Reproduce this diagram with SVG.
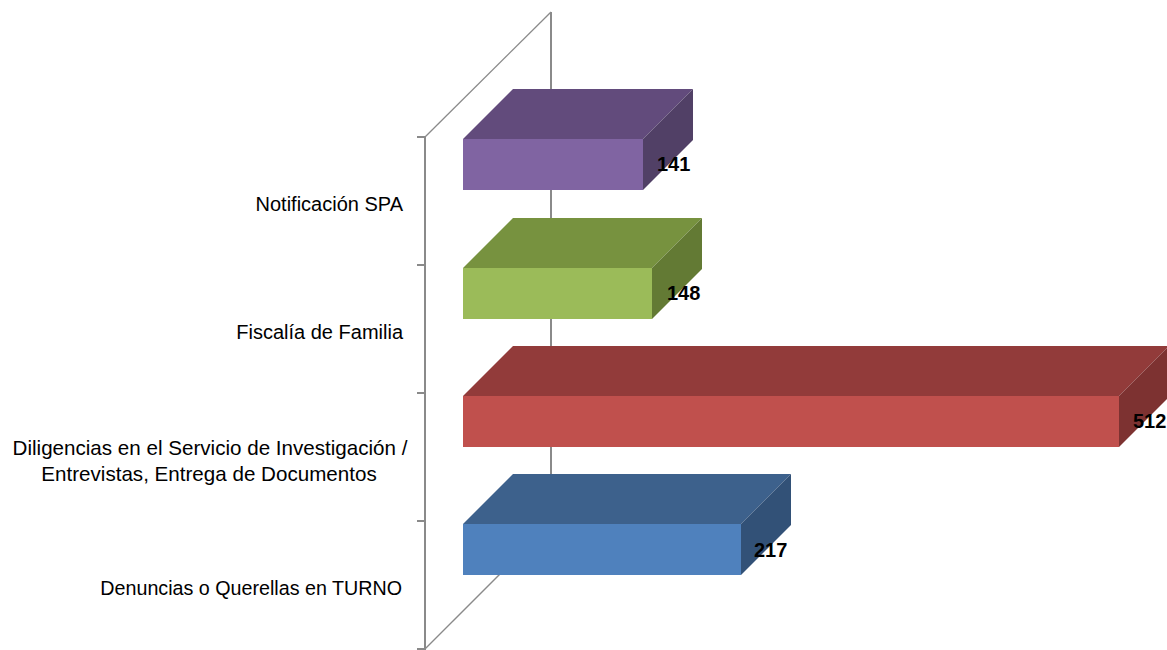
<svg xmlns="http://www.w3.org/2000/svg" width="1167" height="650" viewBox="0 0 1167 650">
<style>
.wall{stroke:#8a8a8a;fill:none}
.ax{stroke:#8a8a8a;stroke-width:2;fill:none}
.cat{font-family:"Liberation Sans",Arial,sans-serif;font-size:20px;fill:#000}
.val{font-family:"Liberation Sans",Arial,sans-serif;font-size:20px;font-weight:bold;fill:#000}
</style>
<rect width="1167" height="650" fill="#ffffff"/>
<g id="connectors">
<line class="wall" x1="425" y1="137" x2="551" y2="12" stroke-width="1.3"/>
<line class="wall" x1="425" y1="649" x2="551" y2="523" stroke-width="1.3"/>
<line class="ax" x1="551" y1="12" x2="551" y2="523"/>
<line class="ax" x1="425" y1="137" x2="425" y2="650"/>
<line class="ax" x1="417" y1="137" x2="425" y2="137"/>
<line class="ax" x1="417" y1="265" x2="425" y2="265"/>
<line class="ax" x1="417" y1="393" x2="425" y2="393"/>
<line class="ax" x1="417" y1="521" x2="425" y2="521"/>
<line class="ax" x1="417" y1="649" x2="425" y2="649"/>
</g>
<g id="bar-notificacion">
<polygon points="463,139 513,89 693,89 643,139" fill="#624B7C"/>
<polygon points="643,139 693,89 693,140 643,190" fill="#514066"/>
<rect x="463" y="139" width="180" height="51" fill="#8064A2"/>
<text class="val" x="657" y="171">141</text>
</g>
<g id="bar-fiscalia">
<polygon points="463,268 513,218 702,218 652,268" fill="#77923F"/>
<polygon points="652,268 702,218 702,269 652,319" fill="#637A34"/>
<rect x="463" y="268" width="189" height="51" fill="#9BBB59"/>
<text class="val" x="667" y="300">148</text>
</g>
<g id="bar-diligencias">
<polygon points="463,396 513,346 1169,346 1119,396" fill="#923B3A"/>
<polygon points="1119,396 1169,346 1169,397 1119,447" fill="#7D3231"/>
<rect x="463" y="396" width="656" height="51" fill="#C0504D"/>
<text class="val" x="1133" y="428">512</text>
</g>
<g id="bar-denuncias">
<polygon points="463,524 513,474 791,474 741,524" fill="#3D618C"/>
<polygon points="741,524 791,474 791,525 741,575" fill="#325177"/>
<rect x="463" y="524" width="278" height="51" fill="#4F81BD"/>
<text class="val" x="754" y="557">217</text>
</g>
<g id="labels">
<text class="cat" x="403" y="211" text-anchor="end">Notificación SPA</text>
<text class="cat" x="403" y="339" text-anchor="end">Fiscalía de Familia</text>
<text class="cat" x="210" y="455" text-anchor="middle" style="font-size:20.6px">Diligencias en el Servicio de Investigación /</text>
<text class="cat" x="209" y="481" text-anchor="middle" style="font-size:20.6px">Entrevistas, Entrega de Documentos</text>
<text class="cat" x="402" y="595" text-anchor="end" style="font-size:19.7px">Denuncias o Querellas en TURNO</text>
</g>
</svg>
